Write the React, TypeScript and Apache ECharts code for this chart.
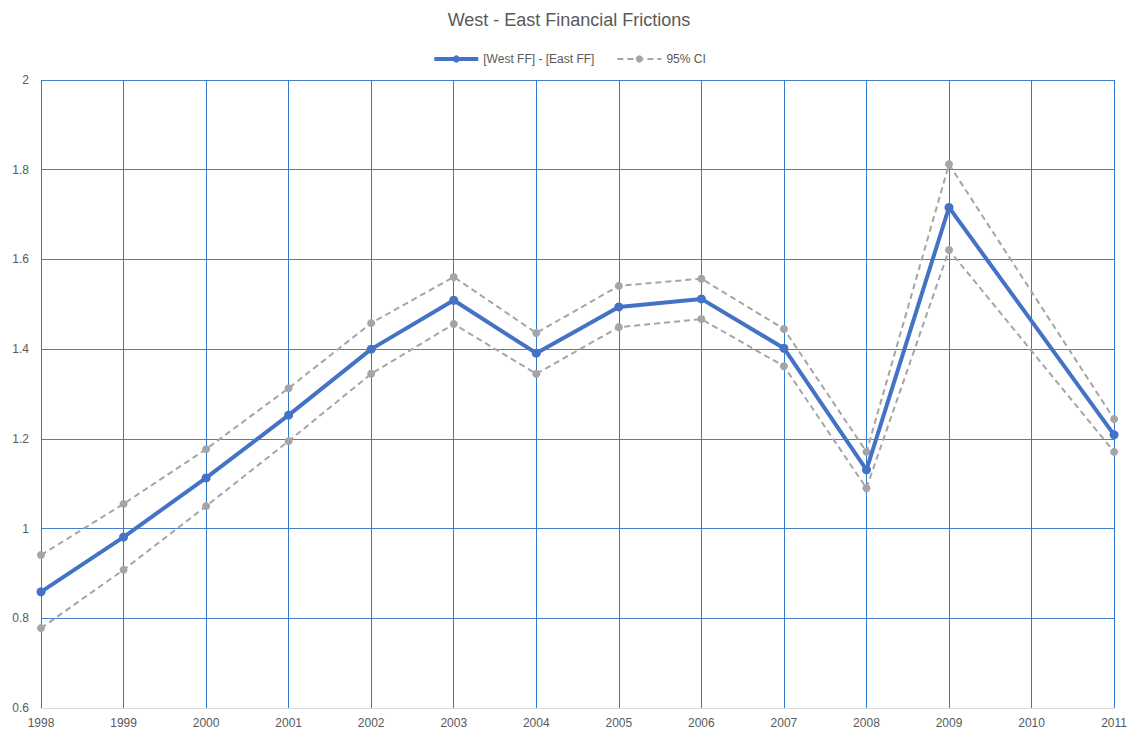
import React, { useEffect, useRef } from "react";
import * as echarts from "echarts";

const years = ["1998","1999","2000","2001","2002","2003","2004","2005","2006","2007","2008","2009","2010","2011"];
const diff = [0.859, 0.981, 1.113, 1.253, 1.400, 1.509, 1.391, 1.494, 1.512, 1.402, 1.131, 1.716, null, 1.209];
const upper = [0.941, 1.055, 1.177, 1.313, 1.458, 1.561, 1.436, 1.541, 1.557, 1.445, 1.171, 1.812, null, 1.244];
const lower = [0.778, 0.908, 1.050, 1.195, 1.345, 1.456, 1.345, 1.449, 1.467, 1.362, 1.090, 1.621, null, 1.171];

const FONT = "'Liberation Sans', Arial, sans-serif";

export default function App() {
  const ref = useRef<HTMLDivElement>(null);
  useEffect(() => {
    if (!ref.current) return;
    const chart = echarts.init(ref.current, undefined, { renderer: "svg" });
    const ciStyle = {
      type: "line",
      name: "95% CI",
      connectNulls: true,
      symbol: "circle",
      symbolSize: 8,
      lineStyle: { color: "#A5A5A5", width: 2, type: [6, 4] },
      itemStyle: { color: "#A5A5A5" },
      z: 2,
    };
    chart.setOption({
      animation: false,
      textStyle: { fontFamily: FONT },
      title: {
        text: "West - East Financial Frictions",
        left: "center",
        top: -2,
        textStyle: { fontSize: 18, fontWeight: "normal", color: "#595959", fontFamily: FONT },
      },
      legend: {
        top: 40,
        left: "center",
        itemWidth: 44,
        itemHeight: 9,
        itemGap: 22,
        textStyle: { fontSize: 12, color: "#595959", fontFamily: FONT },
        data: [
          { name: "[West FF] - [East FF]", lineStyle: { width: 4 } },
          { name: "95% CI", lineStyle: { width: 2 } },
        ],
      },
      grid: { left: 33, right: 11, top: 72, bottom: 22, containLabel: false },
      xAxis: {
        type: "category",
        data: years,
        boundaryGap: false,
        axisLine: { lineStyle: { color: "#D9D9D9", width: 1 } },
        axisTick: { show: false },
        axisLabel: { color: "#595959", fontSize: 12, margin: 9, fontFamily: FONT },
        splitLine: { show: true, lineStyle: { color: "#2E7BCF", width: 1 } },
      },
      yAxis: {
        type: "value",
        min: 0.6,
        max: 2,
        interval: 0.2,
        axisLine: { show: false },
        axisTick: { show: false },
        axisLabel: {
          color: "#595959",
          fontSize: 12,
          margin: 12,
          fontFamily: FONT,
          formatter: (v: number) => String(Math.round(v * 10) / 10),
        },
        splitLine: { show: true, lineStyle: { color: "#4A7FD0", width: 1 } },
      },
      series: [
        { ...ciStyle, data: upper },
        { ...ciStyle, data: lower },
        {
          type: "line",
          name: "[West FF] - [East FF]",
          data: diff,
          connectNulls: true,
          symbol: "circle",
          symbolSize: 9,
          lineStyle: { color: "#4472C4", width: 4 },
          itemStyle: { color: "#4472C4" },
          z: 3,
        },
      ],
    });
    return () => chart.dispose();
  }, []);
  return <div ref={ref} style={{ width: 1122, height: 722 }} />;
}
